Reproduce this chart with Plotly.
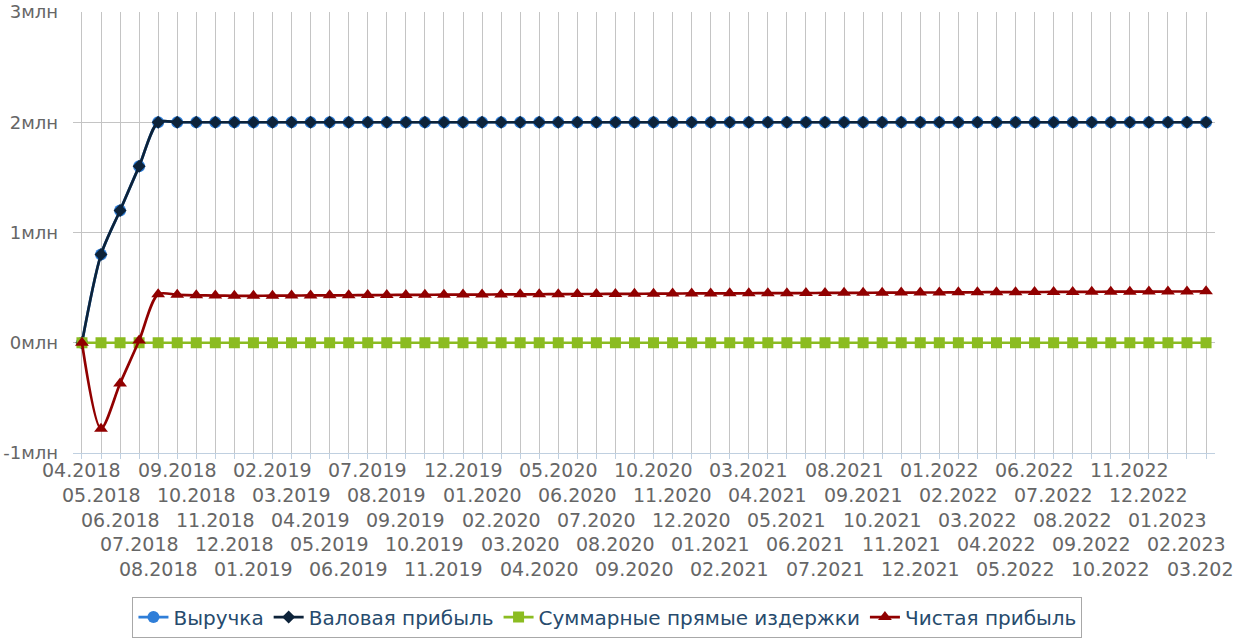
import plotly.graph_objects as go

months = []
for y in range(2018, 2024):
    for m in range(1, 13):
        if (y == 2018 and m < 4) or (y == 2023 and m > 3):
            continue
        months.append(f"{m:02d}.{y}")

revenue = [0, 0.8e6, 1.2e6, 1.6e6] + [2.0e6] * 56
gross_profit = [0, 0.8e6, 1.2e6, 1.6e6] + [2.0e6] * 56
direct_costs = [0] * 60
net_profit_m = [0, -0.78, -0.37, 0.02, 0.44, 0.435, 0.43, 0.428, 0.426, 0.426,
                0.427, 0.428, 0.429, 0.43, 0.431, 0.432, 0.433, 0.434, 0.435, 0.436,
                0.437, 0.437, 0.438, 0.439, 0.44, 0.441, 0.442, 0.442, 0.443, 0.444,
                0.445, 0.446, 0.447, 0.447, 0.448, 0.449, 0.45, 0.45, 0.451, 0.452,
                0.453, 0.453, 0.454, 0.455, 0.456, 0.456, 0.457, 0.458, 0.459, 0.459,
                0.46, 0.461, 0.461, 0.462, 0.463, 0.463, 0.464, 0.465, 0.465, 0.466]
net_profit = [v * 1e6 for v in net_profit_m]

y_tickvals = [-1e6, 0, 1e6, 2e6, 3e6]
y_ticktext = ["-1млн", "0млн", "1млн", "2млн", "3млн"]

names = ["Выручка", "Валовая прибыль", "Суммарные прямые издержки", "Чистая прибыль"]
colors = ["#2f7ed8", "#0d233a", "#8bbc21", "#910000"]
symbols = ["circle", "diamond", "square", "triangle-up"]
sizes = [12, 10, 11, 12]
series = [revenue, gross_profit, direct_costs, net_profit]

FONT = "DejaVu Sans, Verdana, sans-serif"

fig = go.Figure()
for name, col, sym, sz, vals in zip(names, colors, symbols, sizes, series):
    fig.add_trace(go.Scatter(
        x=list(range(len(months))), y=vals, name=name, mode="lines+markers",
        line=dict(color=col, width=2.7, shape="spline", smoothing=0.8),
        marker=dict(color=col, symbol=sym, size=sz, line=dict(width=0)),
        cliponaxis=False,
    ))

annotations = []
for i, lab in enumerate(months):
    k = i % 5
    annotations.append(dict(
        x=i, xref="x", y=0, yref="paper", yanchor="middle", xanchor="center",
        yshift=-(17 + 24.75 * k), text=lab, showarrow=False,
        font=dict(family=FONT, size=19, color="#666666"),
    ))

fig.update_layout(
    width=1234, height=641,
    margin=dict(l=73, r=19, t=12, b=188, autoexpand=False),
    paper_bgcolor="white", plot_bgcolor="white",
    font=dict(family=FONT, size=18, color="#666666"),
    showlegend=True,
    legend=dict(
        orientation="h", x=0.468, xanchor="center", y=-0.372, yanchor="middle",
        bordercolor="#a8a8a8", borderwidth=1, bgcolor="white",
        font=dict(family=FONT, size=20, color="#274b6d"),
        itemwidth=30,
    ),
    annotations=annotations,
    xaxis=dict(
        range=[-0.47, 59.47], automargin=False,
        tickmode="array", tickvals=list(range(len(months))),
        showgrid=True, gridcolor="#c4c4c4", gridwidth=1,
        showline=True, linecolor="#c0d0e0", linewidth=1,
        ticks="outside", ticklen=5, tickcolor="#c0d0e0",
        showticklabels=False, zeroline=False,
    ),
    yaxis=dict(
        range=[-1e6, 3e6], tickmode="array", tickvals=y_tickvals, ticktext=y_ticktext,
        automargin=False,
        showgrid=True, gridcolor="#c4c4c4", gridwidth=1,
        zeroline=False, showline=False, ticks="",
        ticklabelstandoff=14,
        tickfont=dict(family=FONT, size=18, color="#666666"),
    ),
)

fig.write_html("out.html", config={"displayModeBar": False},
               post_script="document.body.style.margin='0';")
